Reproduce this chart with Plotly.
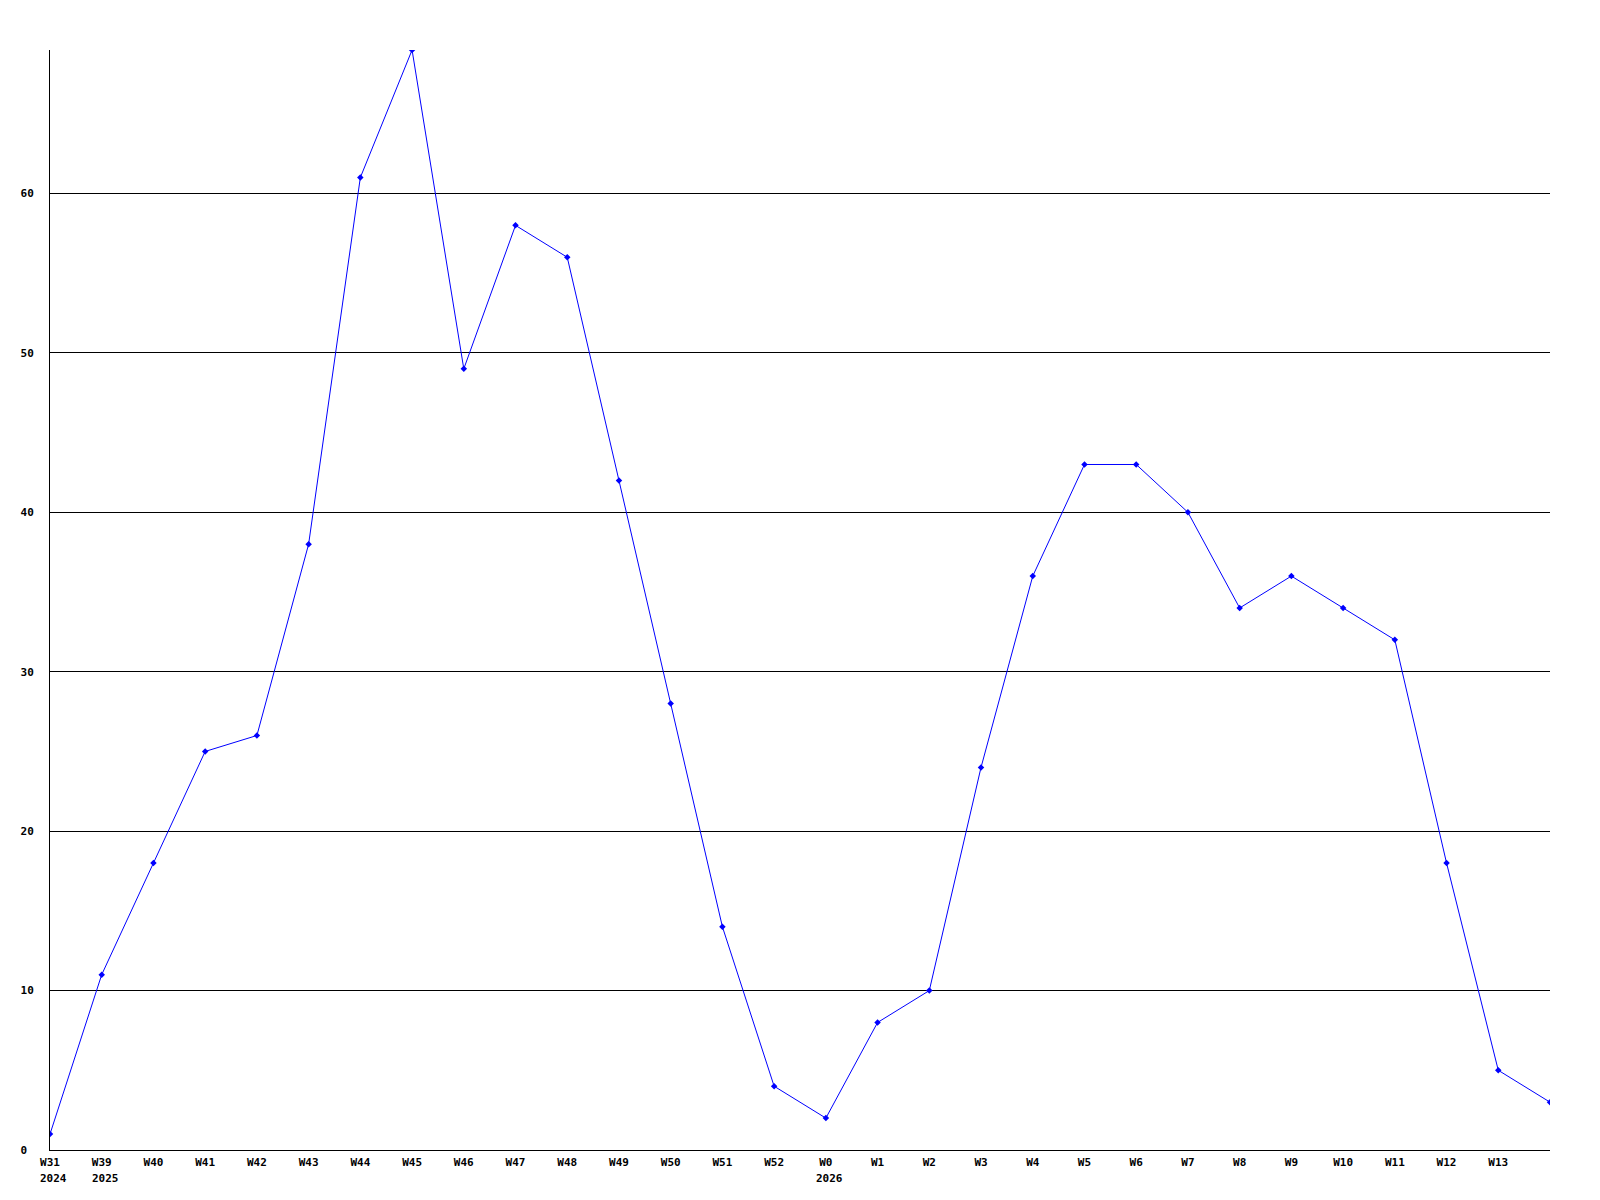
import plotly.graph_objects as go

weeks = ["W31", "W39", "W40", "W41", "W42", "W43", "W44", "W45", "W46", "W47",
         "W48", "W49", "W50", "W51", "W52", "W0", "W1", "W2", "W3", "W4",
         "W5", "W6", "W7", "W8", "W9", "W10", "W11", "W12", "W13", ""]
values = [1, 11, 18, 25, 26, 38, 61, 69, 49, 58,
          56, 42, 28, 14, 4, 2, 8, 10, 24, 36,
          43, 43, 40, 34, 36, 34, 32, 18, 5, 3]
year_marks = {"W31": "2024", "W39": "2025", "W0": "2026"}
y_ticks = [0, 10, 20, 30, 40, 50, 60]

FONT = dict(family="DejaVu Sans Mono", size=11, color="black", weight="bold")

idx = list(range(len(weeks)))

fig = go.Figure()
fig.add_trace(go.Scatter(
    x=idx, y=values, mode="lines+markers",
    line=dict(color="#0000ff", width=1),
    marker=dict(color="#0000ff", symbol="diamond", size=5),
    hoverinfo="skip",
))

for i, w in enumerate(weeks):
    if w in year_marks:
        fig.add_annotation(
            x=i, xref="x", y=0, yref="paper",
            text=year_marks[w], showarrow=False,
            xanchor="left", yanchor="top", xshift=-11, yshift=-21,
            font=FONT, borderpad=0,
        )

fig.update_layout(
    width=1600, height=1200,
    margin=dict(l=50, r=50, t=50, b=50),
    paper_bgcolor="white", plot_bgcolor="white",
    showlegend=False,
    font=FONT,
)
fig.update_xaxes(
    range=[0, len(weeks) - 1],
    tickvals=idx[:-1], ticktext=weeks[:-1],
    showgrid=False, zeroline=False,
    showline=True, linecolor="black", linewidth=1,
    ticks="", tickfont=FONT, ticklabelstandoff=2,
)
fig.update_yaxes(
    range=[0, 69],
    tickvals=y_ticks, ticktext=[f"{t:<2}" for t in y_ticks],
    showgrid=True, gridcolor="black", gridwidth=1,
    zeroline=False,
    showline=True, linecolor="black", linewidth=1,
    ticks="", tickfont=FONT, ticklabelstandoff=13,
)

fig.write_html(
    "out.html",
    config={"displayModeBar": False},
    post_script="document.body.style.margin='0';document.body.style.overflow='hidden';",
)
